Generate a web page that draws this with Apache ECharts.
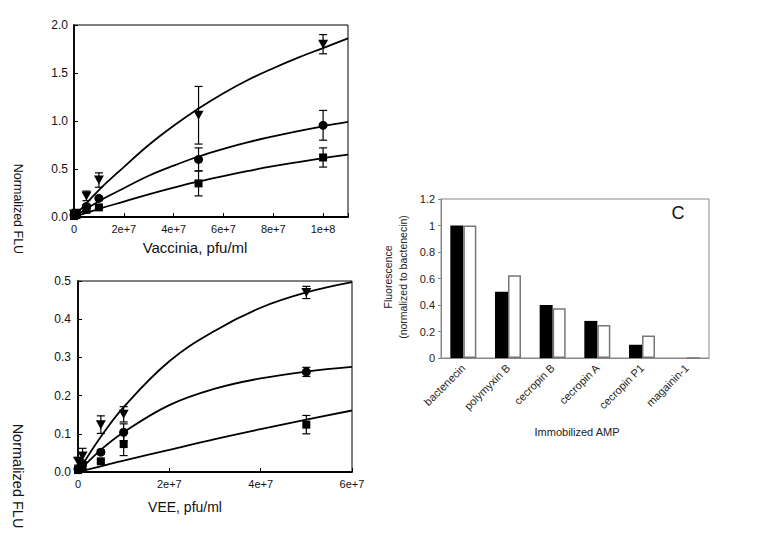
<!DOCTYPE html>
<html><head><meta charset="utf-8">
<script src="https://cdn.jsdelivr.net/npm/echarts@6/dist/echarts.min.js"></script>
<style>html,body{margin:0;padding:0;background:#fff}#c{width:759px;height:560px}</style>
</head><body><div id="c"></div>
<script>
// ---- Panel A: Vaccinia ----
const vacX = [0, 1e6, 5e6, 1e7, 5e7, 1e8];
const vacTri = [0.03, 0.04, 0.22, 0.385, 1.06, 1.80];
const vacTriErr = [0.02, 0.02, 0.05, 0.075, 0.30, 0.10];
const vacCir = [0.02, 0.03, 0.11, 0.195, 0.60, 0.955];
const vacCirErr = [0.01, 0.01, 0.02, 0.02, 0.12, 0.155];
const vacSq = [0.01, 0.02, 0.075, 0.10, 0.35, 0.62];
const vacSqErr = [0.01, 0.01, 0.01, 0.015, 0.13, 0.10];
const vacFitX = [0, 1e7, 2e7, 3e7, 4e7, 5e7, 6e7, 7e7, 8e7, 9e7, 1e8, 1.1e8];
const vacTriFit = [0, 0.28, 0.52, 0.75, 0.95, 1.13, 1.29, 1.43, 1.55, 1.66, 1.76, 1.86];
const vacCirFit = [0, 0.165, 0.30, 0.43, 0.535, 0.63, 0.71, 0.78, 0.84, 0.895, 0.945, 0.99];
const vacSqFit = [0, 0.085, 0.16, 0.235, 0.305, 0.37, 0.427, 0.48, 0.53, 0.572, 0.613, 0.65];
// ---- Panel B: VEE ----
const veeX = [0, 1e6, 5e6, 1e7, 5e7];
const veeTri = [0.028, 0.042, 0.124, 0.151, 0.47];
const veeTriErr = [0.01, 0.02, 0.023, 0.02, 0.016];
const veeCir = [0.008, 0.022, 0.052, 0.104, 0.262];
const veeCirErr = [0.005, 0.005, 0.006, 0.022, 0.012];
const veeSq = [0.005, 0.012, 0.028, 0.073, 0.124];
const veeSqErr = [0.003, 0.004, 0.004, 0.03, 0.024];
const veeFitX = [0, 0.5e7, 1e7, 2e7, 3e7, 4e7, 5e7, 6e7];
const veeTriFit = [0, 0.092, 0.17, 0.29, 0.37, 0.43, 0.47, 0.497];
const veeCirFit = [0, 0.058, 0.104, 0.175, 0.218, 0.245, 0.263, 0.275];
const veeSqFit = [0, 0.015, 0.03, 0.058, 0.086, 0.112, 0.137, 0.161];
// ---- Panel C: AMP bars ----
const ampCats = ['bactenecin', 'polymyxin B', 'cecropin B', 'cecropin A', 'cecropin P1', 'magainin-1'];
const ampBlack = [1, 0.5, 0.4, 0.28, 0.1, 0];
const ampWhite = [1, 0.625, 0.375, 0.25, 0.17, 0];
// tick labels
const vacYTicks = ['0.0', '0.5', '1.0', '1.5', '2.0'];
const veeYTicks = ['0.0', '0.1', '0.2', '0.3', '0.4', '0.5'];
const sciTicks = {0: '0', 20000000: '2e+7', 40000000: '4e+7', 60000000: '6e+7', 80000000: '8e+7', 100000000: '1e+8'};

const FONT = '"Liberation Sans", Arial, sans-serif';
const zip = (xs, ys) => xs.map((x, i) => [x, ys[i]]);
const errData = (xs, ys, es) => xs.map((x, i) => [x, ys[i] - es[i], ys[i] + es[i]]);

function errSeries(idx, data) {
  return {
    type: 'custom', xAxisIndex: idx, yAxisIndex: idx, data: data, z: 3, silent: true,
    renderItem: function (params, api) {
      const x = api.value(0), lo = api.value(1), hi = api.value(2);
      const pLo = api.coord([x, lo]), pHi = api.coord([x, hi]);
      const w = 4;
      const st = {stroke: '#000', lineWidth: 1.2, fill: null};
      return {type: 'group', children: [
        {type: 'line', shape: {x1: pLo[0], y1: pLo[1], x2: pHi[0], y2: pHi[1]}, style: st},
        {type: 'line', shape: {x1: pHi[0] - w, y1: pHi[1], x2: pHi[0] + w, y2: pHi[1]}, style: st},
        {type: 'line', shape: {x1: pLo[0] - w, y1: pLo[1], x2: pLo[0] + w, y2: pLo[1]}, style: st}
      ]};
    }
  };
}
function fitSeries(idx, xs, ys) {
  return {type: 'line', xAxisIndex: idx, yAxisIndex: idx, data: zip(xs, ys), smooth: 0.4,
    showSymbol: false, silent: true, z: 2, lineStyle: {color: '#000', width: 1.8}};
}
function ptSeries(idx, xs, ys, sym, size, rot) {
  return {type: 'scatter', xAxisIndex: idx, yAxisIndex: idx, data: zip(xs, ys), symbol: sym,
    symbolSize: size, symbolRotate: rot || 0, z: 4, silent: true, itemStyle: {color: '#000', opacity: 1}};
}
function valX(idx, max) {
  return {type: 'value', gridIndex: idx, min: 0, max: max, interval: 2e7,
    axisLine: {show: true, lineStyle: {color: '#000', width: 1.8}},
    axisTick: {show: true, inside: true, length: 4, lineStyle: {color: '#000'}},
    axisLabel: {fontFamily: FONT, fontSize: 11, color: '#111', margin: 6,
      formatter: v => (sciTicks[Math.round(v)] !== undefined ? sciTicks[Math.round(v)] : '')},
    splitLine: {show: false}};
}
function valY(idx, max, interval, labels, margin) {
  return {type: 'value', gridIndex: idx, min: 0, max: max, interval: interval,
    axisLine: {show: true, lineStyle: {color: '#000', width: 1.8}},
    axisTick: {show: true, inside: true, length: 4, lineStyle: {color: '#000'}},
    axisLabel: {fontFamily: FONT, fontSize: 12, color: '#111', margin: margin,
      formatter: v => labels[Math.round(v / interval)]},
    splitLine: {show: false}};
}

const chart = echarts.init(document.getElementById('c'), null, {renderer: 'svg'});
chart.setOption({
  animation: false,
  backgroundColor: '#fff',
  grid: [
    {left: 74, top: 25, width: 274, height: 192, show: true, borderColor: '#000', borderWidth: 1, backgroundColor: 'transparent'},
    {left: 78, top: 281, width: 274, height: 191, show: true, borderColor: '#000', borderWidth: 1, backgroundColor: 'transparent'},
    {left: 441, top: 199, width: 268, height: 159, show: true, borderColor: '#888', borderWidth: 1, backgroundColor: 'transparent'}
  ],
  xAxis: [
    valX(0, 1.1e8),
    valX(1, 6e7),
    {type: 'category', gridIndex: 2, data: ampCats,
      axisLine: {lineStyle: {color: '#888', width: 1}}, axisTick: {show: false},
      axisLabel: {rotate: 45, fontFamily: FONT, fontSize: 11, color: '#222', margin: 8, interval: 0}}
  ],
  yAxis: [
    valY(0, 2, 0.5, vacYTicks, 6),
    valY(1, 0.5, 0.1, veeYTicks, 7),
    {type: 'value', gridIndex: 2, min: 0, max: 1.2, interval: 0.2,
      axisLine: {show: true, lineStyle: {color: '#888', width: 1}},
      axisTick: {show: true, length: 3, lineStyle: {color: '#888'}},
      axisLabel: {fontFamily: FONT, fontSize: 11, color: '#222', margin: 6,
        formatter: v => String(Math.round(v * 10) / 10)},
      splitLine: {show: false}}
  ],
  series: [
    fitSeries(0, vacFitX, vacTriFit), fitSeries(0, vacFitX, vacCirFit), fitSeries(0, vacFitX, vacSqFit),
    errSeries(0, errData(vacX, vacTri, vacTriErr)), errSeries(0, errData(vacX, vacCir, vacCirErr)), errSeries(0, errData(vacX, vacSq, vacSqErr)),
    ptSeries(0, vacX, vacTri, 'triangle', [10, 9], 180), ptSeries(0, vacX, vacCir, 'circle', 9), ptSeries(0, vacX, vacSq, 'rect', 8),
    fitSeries(1, veeFitX, veeTriFit), fitSeries(1, veeFitX, veeCirFit), fitSeries(1, veeFitX, veeSqFit),
    errSeries(1, errData(veeX, veeTri, veeTriErr)), errSeries(1, errData(veeX, veeCir, veeCirErr)), errSeries(1, errData(veeX, veeSq, veeSqErr)),
    ptSeries(1, veeX, veeTri, 'triangle', [10, 9], 180), ptSeries(1, veeX, veeCir, 'circle', 9), ptSeries(1, veeX, veeSq, 'rect', 8),
    {type: 'bar', xAxisIndex: 2, yAxisIndex: 2, data: ampBlack, barWidth: 13, barGap: '0%',
      itemStyle: {color: '#000', borderColor: '#000', borderWidth: 0}, silent: true},
    {type: 'bar', xAxisIndex: 2, yAxisIndex: 2, data: ampWhite, barWidth: 13, barGap: '0%',
      itemStyle: {color: '#fff', borderColor: '#777', borderWidth: 1.5}, silent: true}
  ],
  graphic: [
    {type: 'text', x: 195, y: 247, style: {text: 'Vaccinia, pfu/ml', font: '15px ' + FONT, fill: '#111', align: 'center', verticalAlign: 'middle'}},
    {type: 'text', x: 185, y: 507, style: {text: 'VEE, pfu/ml', font: '14px ' + FONT, fill: '#111', align: 'center', verticalAlign: 'middle'}},
    {type: 'text', x: 18, y: 209, rotation: -Math.PI / 2, style: {text: 'Normalized FLU', font: '12.5px ' + FONT, fill: '#111', align: 'center', verticalAlign: 'middle'}},
    {type: 'text', x: 18, y: 476, rotation: -Math.PI / 2, style: {text: 'Normalized FLU', font: '14.5px ' + FONT, fill: '#111', align: 'center', verticalAlign: 'middle'}},
    {type: 'text', x: 577, y: 432, style: {text: 'Immobilized AMP', font: '11px ' + FONT, fill: '#222', align: 'center', verticalAlign: 'middle'}},
    {type: 'text', x: 388, y: 277, rotation: Math.PI / 2, style: {text: 'Fluorescence', font: '10.5px ' + FONT, fill: '#222', align: 'center', verticalAlign: 'middle'}},
    {type: 'text', x: 403, y: 277, rotation: Math.PI / 2, style: {text: '(normalized to bactenecin)', font: '10.5px ' + FONT, fill: '#222', align: 'center', verticalAlign: 'middle'}},
    {type: 'text', x: 678, y: 213, style: {text: 'C', font: '18px ' + FONT, fill: '#111', align: 'center', verticalAlign: 'middle'}}
  ]
});
</script></body></html>
